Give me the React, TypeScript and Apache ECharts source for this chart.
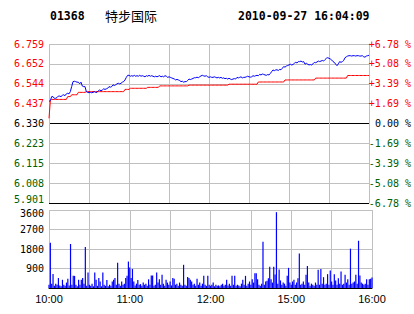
import React, { useEffect, useRef } from "react";
import * as echarts from "echarts";

const CODE = "01368";
const NAME = "特步国际";
const STAMP = "2010-09-27 16:04:09";

const PREV_CLOSE = 6.33;
const PRICE_STEP = 0.10725;
const PRICE_TICKS = ["5.901", "6.008", "6.115", "6.223", "6.330", "6.437", "6.544", "6.652", "6.759"];
const PCT_TICKS = ["-6.78 %", "-5.08 %", "-3.39 %", "-1.69 %", "0.00 %", "+1.69 %", "+3.39 %", "+5.08 %", "+6.78 %"];
const TIME_LABELS = ["10:00", "", "11:00", "", "12:00", "", "15:00", "", "16:00"];
const VOLUME_MAX = 3600;
const VOLUME_STEP = 900;

// one value per trading minute (240 minutes: 10:00-12:30, 14:30-16:00)
const PRICE = [
  6.450, 6.453, 6.475, 6.475, 6.466, 6.466, 6.470, 6.478, 6.478, 6.475,
  6.482, 6.485, 6.480, 6.490, 6.493, 6.490, 6.502, 6.529, 6.556, 6.558,
  6.556, 6.553, 6.553, 6.544, 6.553, 6.532, 6.529, 6.529, 6.502, 6.498,
  6.496, 6.498, 6.496, 6.498, 6.502, 6.498, 6.498, 6.507, 6.511, 6.507,
  6.511, 6.517, 6.514, 6.517, 6.520, 6.529, 6.526, 6.529, 6.539, 6.535,
  6.539, 6.544, 6.547, 6.544, 6.547, 6.553, 6.556, 6.565, 6.579, 6.590,
  6.590, 6.585, 6.588, 6.585, 6.590, 6.585, 6.588, 6.585, 6.590, 6.585,
  6.588, 6.585, 6.582, 6.588, 6.585, 6.590, 6.585, 6.588, 6.585, 6.582,
  6.585, 6.582, 6.585, 6.588, 6.582, 6.585, 6.582, 6.588, 6.585, 6.579,
  6.582, 6.579, 6.576, 6.573, 6.570, 6.565, 6.568, 6.565, 6.562, 6.556,
  6.558, 6.553, 6.556, 6.556, 6.562, 6.570, 6.567, 6.570, 6.573, 6.577,
  6.577, 6.580, 6.577, 6.582, 6.587, 6.590, 6.587, 6.585, 6.588, 6.582,
  6.579, 6.582, 6.579, 6.579, 6.582, 6.579, 6.576, 6.579, 6.576, 6.579,
  6.574, 6.576, 6.572, 6.574, 6.570, 6.574, 6.570, 6.567, 6.570, 6.572,
  6.570, 6.579, 6.576, 6.579, 6.582, 6.576, 6.579, 6.579, 6.582, 6.585,
  6.582, 6.580, 6.582, 6.588, 6.585, 6.588, 6.590, 6.588, 6.595, 6.592,
  6.597, 6.595, 6.592, 6.590, 6.594, 6.592, 6.600, 6.610, 6.619, 6.615,
  6.619, 6.620, 6.616, 6.622, 6.620, 6.628, 6.637, 6.634, 6.640, 6.643,
  6.646, 6.650, 6.646, 6.648, 6.655, 6.660, 6.657, 6.664, 6.664, 6.667,
  6.662, 6.664, 6.650, 6.655, 6.650, 6.646, 6.648, 6.646, 6.652, 6.660,
  6.658, 6.662, 6.667, 6.664, 6.667, 6.670, 6.667, 6.675, 6.682, 6.685,
  6.682, 6.678, 6.673, 6.664, 6.660, 6.650, 6.642, 6.652, 6.664, 6.660,
  6.664, 6.670, 6.685, 6.690, 6.694, 6.696, 6.696, 6.694, 6.696, 6.696,
  6.694, 6.696, 6.696, 6.694, 6.694, 6.696, 6.690, 6.688, 6.694, 6.696,
  6.698,
];

const AVERAGE = [
  6.358, 6.453, 6.460, 6.460, 6.460, 6.460, 6.460, 6.460, 6.460, 6.460,
  6.460, 6.460, 6.460, 6.460, 6.475, 6.475, 6.475, 6.485, 6.485, 6.485,
  6.485, 6.485, 6.498, 6.498, 6.498, 6.498, 6.498, 6.498, 6.502, 6.502,
  6.502, 6.502, 6.502, 6.502, 6.502, 6.502, 6.502, 6.502, 6.502, 6.502,
  6.502, 6.502, 6.502, 6.502, 6.502, 6.502, 6.502, 6.502, 6.502, 6.502,
  6.502, 6.502, 6.502, 6.502, 6.502, 6.502, 6.502, 6.514, 6.514, 6.514,
  6.514, 6.520, 6.520, 6.520, 6.520, 6.520, 6.520, 6.520, 6.520, 6.520,
  6.520, 6.520, 6.520, 6.520, 6.525, 6.525, 6.525, 6.525, 6.525, 6.525,
  6.525, 6.525, 6.525, 6.533, 6.533, 6.533, 6.533, 6.533, 6.533, 6.533,
  6.533, 6.533, 6.533, 6.533, 6.533, 6.533, 6.533, 6.533, 6.533, 6.533,
  6.533, 6.533, 6.533, 6.533, 6.533, 6.537, 6.537, 6.537, 6.537, 6.537,
  6.537, 6.537, 6.537, 6.537, 6.537, 6.537, 6.537, 6.537, 6.537, 6.537,
  6.537, 6.537, 6.537, 6.537, 6.537, 6.537, 6.537, 6.537, 6.537, 6.537,
  6.537, 6.537, 6.537, 6.537, 6.537, 6.542, 6.542, 6.542, 6.542, 6.542,
  6.542, 6.542, 6.542, 6.542, 6.542, 6.542, 6.542, 6.542, 6.542, 6.542,
  6.542, 6.542, 6.542, 6.542, 6.542, 6.542, 6.542, 6.554, 6.554, 6.554,
  6.554, 6.554, 6.554, 6.554, 6.554, 6.554, 6.554, 6.554, 6.554, 6.554,
  6.554, 6.554, 6.554, 6.554, 6.554, 6.554, 6.554, 6.565, 6.565, 6.565,
  6.565, 6.565, 6.565, 6.565, 6.565, 6.565, 6.565, 6.565, 6.565, 6.565,
  6.565, 6.565, 6.565, 6.565, 6.565, 6.565, 6.565, 6.565, 6.565, 6.565,
  6.575, 6.575, 6.575, 6.575, 6.575, 6.575, 6.575, 6.575, 6.575, 6.575,
  6.575, 6.575, 6.575, 6.575, 6.575, 6.575, 6.575, 6.575, 6.575, 6.575,
  6.575, 6.575, 6.575, 6.575, 6.589, 6.589, 6.589, 6.589, 6.589, 6.589,
  6.589, 6.589, 6.589, 6.589, 6.589, 6.589, 6.589, 6.589, 6.589, 6.589,
  6.589,
];

const VOLUME = [
  150, 2090, 200, 650, 100, 200, 150, 460, 120, 80,
  380, 150, 100, 250, 430, 120, 2030, 150, 560, 560,
  150, 80, 380, 150, 380, 460, 200, 1890, 100, 720,
  150, 100, 200, 80, 720, 380, 100, 460, 300, 80,
  720, 150, 100, 370, 80, 150, 100, 300, 380, 460,
  150, 1170, 200, 100, 300, 150, 200, 460, 570, 1220,
  950, 460, 880, 300, 120, 200, 370, 150, 180, 100,
  250, 150, 200, 100, 400, 150, 580, 580, 100, 150,
  720, 250, 400, 150, 610, 200, 100, 380, 250, 150,
  300, 120, 460, 430, 150, 200, 100, 250, 150, 100,
  1070, 150, 100, 510, 460, 380, 300, 150, 200, 100,
  430, 150, 250, 100, 200, 570, 150, 100, 560, 150,
  100, 150, 250, 80, 150, 100, 120, 80, 150, 200,
  100, 150, 380, 120, 200, 100, 570, 150, 560, 100,
  150, 120, 80, 200, 380, 150, 560, 100, 200, 300,
  150, 400, 250, 680, 680, 400, 150, 100, 200, 2140,
  150, 300, 330, 450, 980, 400, 250, 980, 620, 3500,
  200, 850, 350, 150, 250, 200, 100, 560, 930, 250,
  150, 300, 380, 150, 250, 450, 1590, 150, 200, 300,
  150, 610, 1020, 250, 100, 200, 150, 100, 250, 150,
  840, 150, 880, 200, 500, 150, 200, 640, 150, 810,
  300, 150, 640, 350, 150, 450, 200, 760, 150, 200,
  610, 250, 400, 150, 1815, 200, 250, 300, 610, 200,
  2180, 580, 250, 200, 150, 200, 400, 150, 400, 430,
  480,
];

const RED = "#ff0000";
const GREEN = "#006000";
const GRID_GRAY = "#c0c0c0";
const MONO = "'DejaVu Sans Mono', monospace";

function levelColor(v: number) {
  return v > 0 ? RED : v < 0 ? GREEN : "#000000";
}

export default function App() {
  const ref = useRef<HTMLDivElement>(null);

  useEffect(() => {
    if (!ref.current) return;
    const chart = echarts.init(ref.current, null, { renderer: "svg" });
    const toLevel = (p: number) => (p - PREV_CLOSE) / PRICE_STEP;
    const priceData = PRICE.map((p, i) => [i, toLevel(p)]);
    const avgData = AVERAGE.map((p, i) => [i, toLevel(p)]);
    const volData = VOLUME.map((v, i) => [i, v]);
    const lastMinute = PRICE.length - 1;
    const priceSplitColors = PRICE_TICKS.map((_, i) =>
      i === 0 || i === 4 ? "#000000" : GRID_GRAY
    );
    const volSplitColors = [0, 1, 2, 3, 4].map((i) => (i === 0 ? "#000000" : GRID_GRAY));
    const levelRich = (color: string) => ({
      [color === RED ? "r" : color === GREEN ? "g" : "k"]: {},
    });
    void levelRich;

    chart.setOption({
      animation: false,
      backgroundColor: "#ffffff",
      graphic: [
        {
          type: "text",
          left: 50,
          top: 10,
          style: { text: CODE, font: `bold 11.5px ${MONO}`, fill: "#000" },
        },
        {
          type: "text",
          left: 105,
          top: 9,
          style: { text: NAME, font: "13px 'Noto Sans CJK SC'", fill: "#000" },
        },
        {
          type: "text",
          left: 238,
          top: 10,
          style: { text: STAMP, font: `bold 11.5px ${MONO}`, fill: "#000" },
        },
      ],
      grid: [
        { left: 49, right: 42, top: 44, height: 159 },
        { left: 49, right: 42, top: 210, height: 78 },
      ],
      xAxis: [
        {
          type: "value",
          gridIndex: 0,
          min: 0,
          max: lastMinute,
          interval: 30,
          axisLine: { show: false },
          axisTick: { show: false },
          axisLabel: { show: false },
          splitLine: { show: true, lineStyle: { color: GRID_GRAY, width: 1 } },
        },
        {
          type: "value",
          gridIndex: 1,
          min: 0,
          max: lastMinute,
          interval: 30,
          axisLine: { show: true, onZero: false, lineStyle: { color: "#000", width: 1 } },
          axisTick: { show: false },
          axisLabel: {
            margin: 5,
            color: "#000",
            fontSize: 11,
            fontFamily: "'Liberation Sans Narrow', 'Liberation Sans', Arial, sans-serif",
            formatter: (v: number) => TIME_LABELS[Math.round(v / 30)] ?? "",
          },
          splitLine: { show: true, lineStyle: { color: GRID_GRAY, width: 1 } },
        },
      ],
      yAxis: [
        {
          type: "value",
          gridIndex: 0,
          position: "left",
          min: -4,
          max: 4,
          interval: 1,
          axisLine: { show: false },
          axisTick: { show: false },
          axisLabel: {
            margin: 5,
            fontSize: 10,
            fontFamily: MONO,
            color: (v: any) => levelColor(Number(v)),
            formatter: (v: number) => {
              const t = PRICE_TICKS[Math.round(v) + 4];
              return Math.round(v) === -4 ? `{low|${t}}` : t;
            },
            rich: { low: { fontSize: 10, fontFamily: MONO, color: GREEN, padding: [0, 0, 7, 0] } },
          },
          splitLine: { show: true, lineStyle: { color: priceSplitColors, width: 1 } },
        },
        {
          type: "value",
          gridIndex: 0,
          position: "right",
          min: -4,
          max: 4,
          interval: 1,
          axisLine: { show: true, lineStyle: { color: GRID_GRAY } },
          axisTick: { show: false },
          axisLabel: {
            margin: 42,
            align: "right",
            fontSize: 10,
            fontFamily: MONO,
            color: (v: any) => levelColor(Number(v)),
            formatter: (v: number) => PCT_TICKS[Math.round(v) + 4],
          },
          splitLine: { show: false },
        },
        {
          type: "value",
          gridIndex: 1,
          min: 0,
          max: VOLUME_MAX,
          interval: VOLUME_STEP,
          axisLine: { show: false },
          axisTick: { show: false },
          axisLabel: {
            margin: 5,
            fontSize: 10,
            fontFamily: MONO,
            color: "#000",
            formatter: (v: number) =>
              v === 0 ? "" : v === VOLUME_MAX ? `{top|${v}}` : String(v),
            rich: { top: { fontSize: 10, fontFamily: MONO, color: "#000", padding: [6, 0, 0, 0] } },
          },
          splitLine: { show: true, lineStyle: { color: volSplitColors, width: 1 } },
        },
      ],
      series: [
        {
          type: "line",
          xAxisIndex: 0,
          yAxisIndex: 0,
          data: avgData,
          symbol: "none",
          lineStyle: { color: RED, width: 1 },
          z: 3,
        },
        {
          type: "line",
          xAxisIndex: 0,
          yAxisIndex: 0,
          data: priceData,
          symbol: "none",
          lineStyle: { color: "#0000ff", width: 1 },
          z: 4,
        },
        {
          type: "bar",
          xAxisIndex: 1,
          yAxisIndex: 2,
          data: volData,
          barWidth: 1.2,
          itemStyle: { color: "#0000ff" },
        },
      ],
    });
    return () => chart.dispose();
  }, []);

  return (
    <div
      ref={ref}
      style={{ position: "fixed", left: 0, top: 0, width: 414, height: 314, background: "#fff" }}
    />
  );
}
